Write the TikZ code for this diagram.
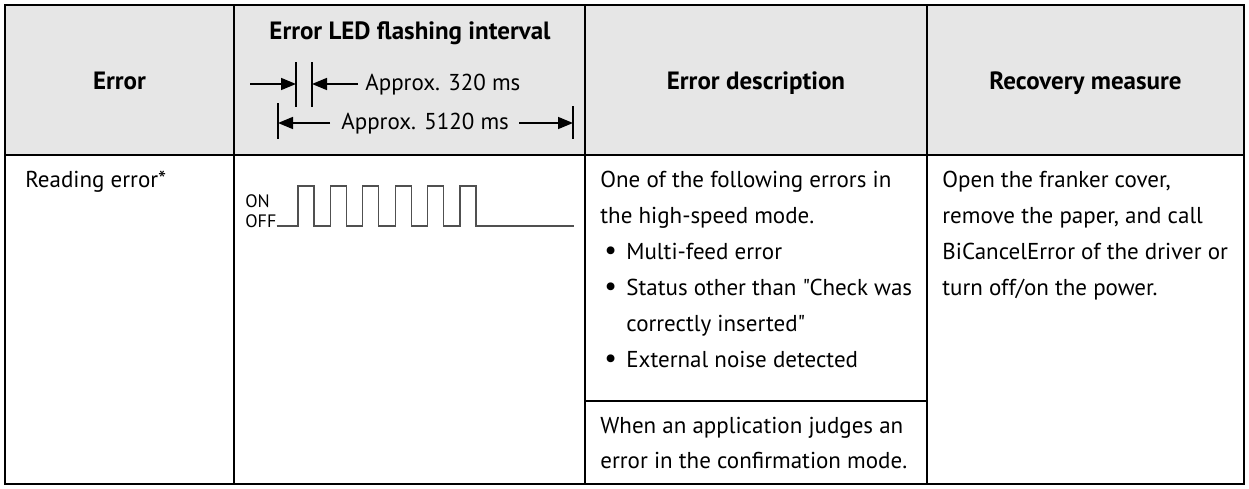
\documentclass[tikz,border=0pt]{standalone}
\usepackage{fontspec}
\setmainfont{PT Sans}[Ligatures=TeXOff]
\usepackage{tikz}
\usetikzlibrary{arrows.meta,calc}
\definecolor{HeaderGray}{HTML}{E6E6E6}
\definecolor{WaveGray}{HTML}{505050}
\newcommand{\itemdot}{\makebox[11pt][l]{\raisebox{-0.3pt}{\fontsize{14}{14}\selectfont\textbullet}}}
\tikzset{
  outerline/.style={line width=1.3pt},
  innerline/.style={line width=1pt},
  headtext/.style={font=\fontsize{12.5}{14}\selectfont\bfseries, anchor=base, inner sep=0pt},
  celltext/.style={font=\fontsize{11.5}{13}\selectfont, anchor=base west, inner sep=0pt},
  smalltext/.style={font=\fontsize{9}{10}\selectfont, anchor=base west, inner sep=0pt},
  dimbar/.style={line width=1pt},
  dimarrow/.style={line width=0.8pt, -{Triangle[length=7.5pt,width=6pt]}},
  wave/.style={WaveGray, line width=0.6pt}
}

\begin{document}
\begin{tikzpicture}[x=0.5pt,y=-0.5pt]
  \useasboundingbox (0,0) rectangle (1249,488);

  % header band and grid
  \fill[HeaderGray] (5,5) rectangle (1244,155);
  \draw[innerline] (234,5) -- (234,484);
  \draw[innerline] (585,5) -- (585,484);
  \draw[innerline] (927,5) -- (927,484);
  \draw[innerline] (585,401) -- (927,401);
  \draw[outerline] (5,155) -- (1244,155);
  \draw[outerline] (5,5) rectangle (1244,484);

  % headers
  \node[headtext] (hErr) at (119.5,89) {Error};
  \node[headtext] (hLed) at (410,39) {Error LED flashing interval};
  \node[headtext] (hDesc) at (756,89) {Error description};
  \node[headtext] (hRec) at (1085.5,89) {Recovery measure};

  % interval marks
  \coordinate (bar1t) at (296,62);
  \coordinate (bar1b) at (296,107);
  \coordinate (bar2t) at (312,62);
  \coordinate (bar2b) at (312,107);
  \coordinate (bar3t) at (278,103);
  \coordinate (bar3b) at (278,139);
  \coordinate (bar4t) at (573,106);
  \coordinate (bar4b) at (573,139);
  \draw[dimbar] (bar1t) -- (bar1b);
  \draw[dimbar] (bar2t) -- (bar2b);
  \draw[dimbar] (bar3t) -- (bar3b);
  \draw[dimbar] (bar4t) -- (bar4b);

  \node[celltext] (t320) at (365,90) {Approx. 320 ms};
  \node[celltext] (t5120) at (341,129) {Approx. 5120 ms};

  \coordinate (s1) at (250,84);
  \coordinate (s2) at (358,84);
  \coordinate (s3) at (330,123);
  \coordinate (s4) at (519,123);
  \draw[dimarrow] (s1) -- (bar1t |- s1);
  \draw[dimarrow] (s2) -- (bar2t |- s2);
  \draw[dimarrow] (s3) -- (bar3t |- s3);
  \draw[dimarrow] (s4) -- (bar4t |- s4);

  % body
  \node[celltext] (err) at (25,187) {Reading error*};

  \node[smalltext] (on) at (245,207) {ON};
  \node[smalltext] (off) at (245,227) {OFF};
  \draw[wave] (off.east |- 0,226) -- (298,226)
    \foreach \i in {0,...,5} { -- (298+32.4*\i,226) -- ++(0,-40) -- ++(16,0) -- ++(0,40) }
    -- (574,226);

  \node[celltext] (d1) at (600,187) {One of the following errors in};
  \node[celltext] (d2) at (600,223) {the high-speed mode.};
  \node[celltext] (d3) at (604,259) {\itemdot Multi-feed error};
  \node[celltext] (d4) at (604,295) {\itemdot Status other than "Check was};
  \node[celltext] (d5) at (626,331) {correctly inserted"};
  \node[celltext] (d6) at (604,367) {\itemdot External noise detected};
  \node[celltext] (d7) at (600,433) {When an application judges an};
  \node[celltext] (d8) at (600,468) {error in the confirmation mode.};

  \node[celltext] (r1) at (942,187) {Open the franker cover,};
  \node[celltext] (r2) at (942,223) {remove the paper, and call};
  \node[celltext] (r3) at (942,259) {BiCancelError of the driver or};
  \node[celltext] (r4) at (942,295) {turn off/on the power.};
\end{tikzpicture}
\end{document}
